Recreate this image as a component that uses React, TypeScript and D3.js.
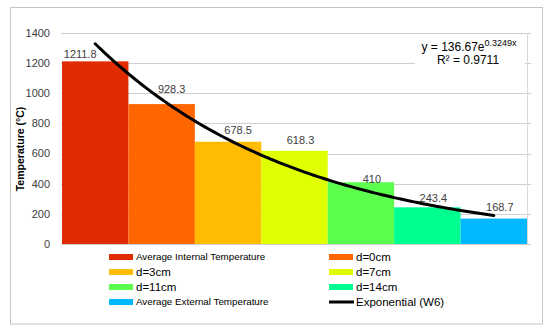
import React from "react";
import * as d3 from "d3";

const categories = [
  "Average Internal Temperature",
  "d=0cm",
  "d=3cm",
  "d=7cm",
  "d=11cm",
  "d=14cm",
  "Average External Temperature",
];
const values = [1211.8, 928.3, 678.5, 618.3, 410, 243.4, 168.7];
const labels = ["1211.8", "928.3", "678.5", "618.3", "410", "243.4", "168.7"];
const colors = ["#e02c00", "#ff6600", "#ffbc00", "#e0ff00", "#5cff4e", "#00ff90", "#00b8ff"];
const yTicks = [0, 200, 400, 600, 800, 1000, 1200, 1400];
// label nudges (dx, dy from bar top), as placed in the original
const labelDx = [-15, 10, 10, 6, 11, 6, 6];
const labelDy = [-3, -11, -8, -7, 0.5, -5.5, -8];
const trendA = 136.67;
const trendB = 0.3249;
const trendName = "Exponential (W6)";

const W = 550;
const H = 333;
const FONT = "'Liberation Sans', Arial, sans-serif";

export default function App() {
  const x = d3.scaleBand<string>().domain(categories).range([62, 527]).padding(0);
  const y = d3.scaleLinear().domain([0, 1400]).range([244, 33]);
  const n = categories.length;
  const xi = d3.scaleLinear().domain([1, n]).range([x(categories[0])! + x.bandwidth() / 2, x(categories[n - 1])! + x.bandwidth() / 2]);
  const trendPts = d3.range(1, n + 0.001, 0.05).map((t) => [t, trendA * Math.exp(trendB * (n + 1 - t))] as [number, number]);
  const line = d3.line<[number, number]>().x((d) => xi(d[0])).y((d) => y(d[1])).curve(d3.curveLinear);

  const legendRows = [
    { label: categories[0], color: colors[0], small: true },
    { label: categories[1], color: colors[1] },
    { label: categories[2], color: colors[2] },
    { label: categories[3], color: colors[3] },
    { label: categories[4], color: colors[4] },
    { label: categories[5], color: colors[5] },
    { label: categories[6], color: colors[6], small: true },
    { label: trendName, color: "#000", line: true },
  ];

  return (
    <svg width={W} height={H} style={{ position: "absolute", left: 0, top: 0, fontFamily: FONT }}>
      <rect x={0} y={0} width={W} height={H} fill="#fff" />
      <rect x={10.5} y={7.5} width={532} height={316.5} fill="#fff" stroke="#c4c4c4" strokeWidth={1} />
      {/* gridlines */}
      {yTicks.map((t) => (
        <line key={t} x1={61} x2={531} y1={Math.round(y(t)) + 0.5} y2={Math.round(y(t)) + 0.5} stroke="#cfcfcf" strokeWidth={1} />
      ))}
      <line x1={527.5} x2={527.5} y1={y(1400)} y2={y(0)} stroke="#d9d9d9" strokeWidth={1} />
      {/* tick labels */}
      {yTicks.map((t) => (
        <text key={t} x={50} y={y(t)} dy="0.35em" textAnchor="end" fontSize={11} fill="#404040">
          {t}
        </text>
      ))}
      {/* bars */}
      {values.map((v, i) => (
        <rect key={i} x={x(categories[i])} y={y(v)} width={x.bandwidth()} height={y(0) - y(v)} fill={colors[i]} />
      ))}
      {/* data labels */}
      {values.map((v, i) => (
        <text key={i} x={x(categories[i])! + x.bandwidth() / 2 + labelDx[i]} y={y(v) + labelDy[i]} textAnchor="middle" fontSize={11} fill="#404040">
          {labels[i]}
        </text>
      ))}
      {/* trendline */}
      <path d={line(trendPts) || ""} fill="none" stroke="#000" strokeWidth={3} strokeLinecap="round" />
      {/* equation */}
      <rect x={415} y={38} width={110} height={28} fill="#fff" />
      <text x={469} y={51} textAnchor="middle" fontSize={12} fill="#000">
        y = 136.67e<tspan dy={-5} fontSize={9}>0.3249x</tspan>
      </text>
      <text x={468} y={64} textAnchor="middle" fontSize={12} fill="#000">
        R² = 0.9711
      </text>
      {/* y axis title */}
      <text transform={`translate(24,149) rotate(-90)`} textAnchor="middle" fontSize={10.5} fontWeight="bold" fill="#000">
        Temperature (°C)
      </text>
      {/* legend */}
      {legendRows.map((r, i) => {
        const col = i % 2;
        const row = Math.floor(i / 2);
        const sx = col === 0 ? 109 : 329;
        const cy = 257 + row * 15;
        return (
          <g key={i}>
            {r.line ? (
              <line x1={sx} x2={sx + 25} y1={cy} y2={cy} stroke="#000" strokeWidth={3} />
            ) : (
              <rect x={sx} y={cy - 3} width={24} height={6} fill={r.color} />
            )}
            <text x={sx + 27} y={cy} dy="0.35em" fontSize={r.small ? 9.8 : 11.5} fill="#000">
              {r.label}
            </text>
          </g>
        );
      })}
    </svg>
  );
}
